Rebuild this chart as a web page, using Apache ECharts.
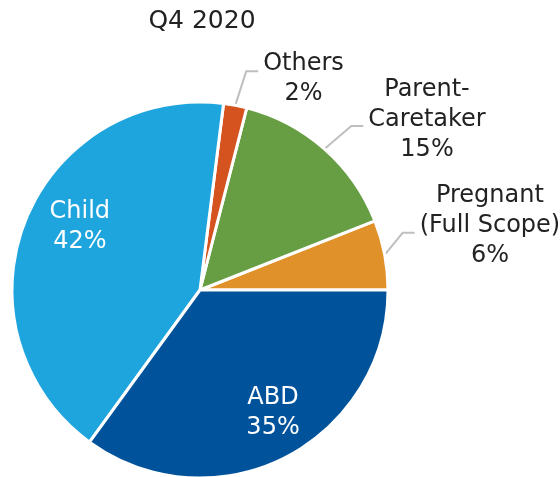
<!DOCTYPE html>
<html>
<head>
<meta charset="utf-8">
<script src="https://cdn.jsdelivr.net/npm/echarts@6/dist/echarts.min.js"></script>
<style>
  html, body { margin: 0; padding: 0; background: #fff; }
  #main { width: 560px; height: 477px; }
</style>
</head>
<body>
<div id="main"></div>
<script>
// order = counter-clockwise from 3 o'clock
const names = ['Pregnant\n(Full Scope)', 'Parent-\nCaretaker', 'Others', 'Child', 'ABD']
const values = [6, 15, 2, 42, 35]
const colors = ['#E0912A', '#679E44', '#D4531F', '#1FA5DE', '#00529B']

// label placement tweaks (style only)
const insideOffset = {'Child': [-30, -28], 'ABD': [29, 36]}
const elbow = {0: [18, -22], 1: [27, -23], 2: [11, -34]}   // by dataIndex
const textShift = {0: -7, 1: -6, 2: 7}

const font = 'DejaVu Sans'
const fs = 24

let myChart = echarts.init(document.getElementById('main'))

const lines = (p) => {
    let rows = p.name.split('\n').concat([Math.round(p.percent) + '%'])
    return rows.map(r => '{t|' + r + '}').join('\n')
}

const data = names.map((n, i) => {
    let item = {
        name: n,
        value: values[i],
        itemStyle: {color: colors[i]}
    }
    if (insideOffset[n]) {
        item.label = {
            position: 'inside',
            offset: insideOffset[n],
            rich: {t: {color: '#fff', align: 'center', fontFamily: font, fontSize: fs, lineHeight: 30}}
        }
        item.labelLine = {show: false}
    }
    return item
})

let option = {
    backgroundColor: '#fff',
    animation: false,
    title: {
        text: 'Q4 2020',
        left: 197,
        top: 4,
        textAlign: 'center',
        textStyle: {
            fontFamily: font,
            fontSize: 25,
            fontWeight: 'normal',
            color: '#222'
        }
    },
    series: [
        {
            type: 'pie',
            center: [200, 290],
            radius: 188,
            startAngle: 0,
            clockwise: false,
            avoidLabelOverlap: false,
            itemStyle: {
                borderColor: '#fff',
                borderWidth: 3
            },
            label: {
                position: 'outside',
                formatter: lines,
                distanceToLabelLine: 5,
                rich: {
                    t: {color: '#222', align: 'center', fontFamily: font, fontSize: fs, lineHeight: 30}
                }
            },
            labelLine: {
                length: 30,
                length2: 12,
                lineStyle: {color: '#BFBFBF', width: 2}
            },
            labelLayout: (params) => {
                let e = elbow[params.dataIndex]
                if (!e || !params.labelLinePoints) return {}
                let p0 = params.labelLinePoints[0]
                let p1 = [p0[0] + e[0], p0[1] + e[1]]
                let p2 = [p1[0] + 12, p1[1]]
                return {
                    x: p2[0] + 5,
                    y: p2[1] + textShift[params.dataIndex],
                    align: 'left',
                    verticalAlign: 'middle',
                    labelLinePoints: [p0, p1, p2]
                }
            },
            data: data
        }
    ]
}

myChart.setOption(option)
</script>
</body>
</html>
